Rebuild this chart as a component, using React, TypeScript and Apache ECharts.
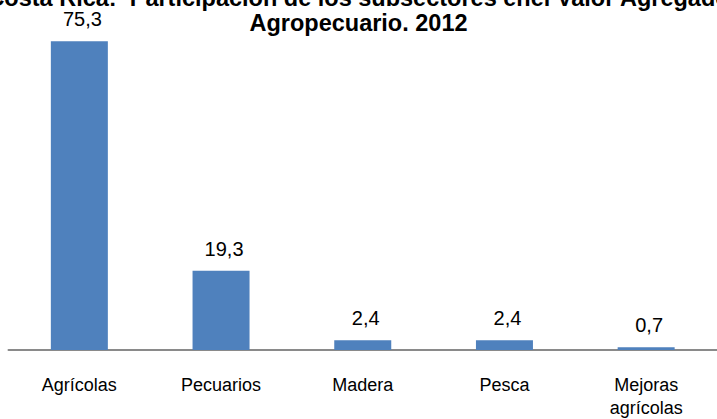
import React, { useEffect, useRef } from "react";
import * as echarts from "echarts";

const titleLines = [
  "Costa Rica:  Participación de los subsectores enel Valor Agregado",
  "Agropecuario. 2012",
];
const categories = ["Agrícolas", "Pecuarios", "Madera", "Pesca", "Mejoras\nagrícolas"];
const values = [75.3, 19.3, 2.4, 2.4, 0.7];

const FONT = "'Liberation Sans', Arial, sans-serif";

export default function App() {
  const ref = useRef<HTMLDivElement>(null);
  useEffect(() => {
    document.body.style.margin = "0";
    const chart = echarts.init(ref.current!, null, { renderer: "svg" });
    chart.setOption({
      animation: false,
      backgroundColor: "#ffffff",
      title: {
        text: titleLines.join("\n"),
        left: "center",
        top: -15,
        padding: 0,
        textStyle: {
          fontFamily: FONT,
          fontSize: 23.5,
          fontWeight: "bold",
          color: "#000000",
          lineHeight: 25,
        },
      },
      grid: { left: 8.5, top: 22, width: 719, height: 336.7, containLabel: false },
      xAxis: {
        type: "category",
        data: categories,
        axisLine: { show: true, lineStyle: { color: "#8a8a8a", width: 2 } },
        axisTick: { show: false },
        axisLabel: {
          interval: 0,
          margin: 23,
          fontFamily: FONT,
          fontSize: 18,
          lineHeight: 23,
          color: "#000000",
        },
      },
      yAxis: {
        type: "value",
        min: 0,
        max: 80,
        show: false,
        splitLine: { show: false },
      },
      series: [
        {
          type: "bar",
          data: values,
          barWidth: 57,
          itemStyle: { color: "#4F81BD" },
          label: {
            show: true,
            position: "top",
            distance: 12,
            offset: [3, 0],
            fontFamily: FONT,
            fontSize: 20,
            color: "#000000",
            formatter: (p: any) => String(p.value).replace(".", ","),
          },
        },
      ],
    });
    return () => chart.dispose();
  }, []);
  return (
    <div
      ref={ref}
      style={{ position: "absolute", left: 0, top: 0, width: 717, height: 419 }}
    />
  );
}
